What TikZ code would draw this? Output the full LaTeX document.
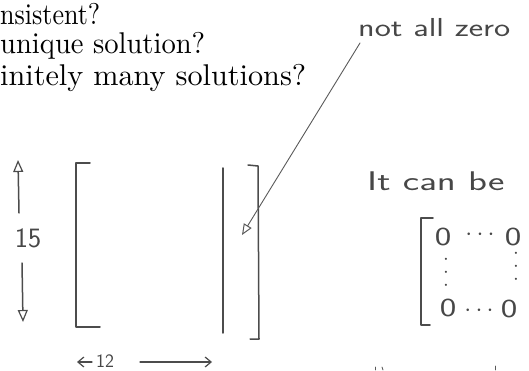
\documentclass[tikz,border=0pt]{standalone}
\usepackage{fontspec}
\usepackage{graphicx}
\newfontfamily\lmten{lmroman10-regular.otf}
\usetikzlibrary{arrows.meta}
\begin{document}
\begin{tikzpicture}[x=1pt,y=-1pt,
  pencil/.style={draw=black!70, line width=1.5pt, line cap=round, line join=round},
  thinpencil/.style={draw=black!65, line width=0.9pt, line cap=round},
  typed/.style={anchor=base west, inner sep=0pt, font=\lmten\fontsize{30}{32}\selectfont},
  hand/.style={inner sep=0pt, text=black!72, font=\sffamily},
  zero/.style={hand, font=\sffamily\fontsize{26}{28}\selectfont},
  vdot/.style={hand, align=center, font=\fontsize{22}{13}\selectfont},
  hdot/.style={hand, font=\fontsize{28}{28}\selectfont},
  headtri/.style={-{Triangle[open,length=12pt,width=10pt,line width=1.2pt]}},
  headline/.style={-{Straight Barb[length=6pt,width=10pt,line width=1.2pt]}}]
\useasboundingbox (0,0) rectangle (529,371);

% typed lines
\node[typed] (l1) at (0,25) {\resizebox{100pt}{\height}{nsistent?}};
\node[typed] (l2) at (0,54) {\resizebox{205pt}{\height}{unique solution?}};
\node[typed] (l3) at (0,86) {\resizebox{306pt}{\height}{initely many solutions?}};

% height arrows and label
\node[hand, font=\sffamily\fontsize{28}{30}\selectfont] (h15) at (28,238) {15};
\coordinate (ua1) at (19,213);
\coordinate (ua2) at (18,160);
\coordinate (da1) at (22,263);
\coordinate (da2) at (23,322);
\draw[pencil, headtri] (ua1) -- (ua2);
\draw[pencil, headtri] (da1) -- (da2);

% big matrix
\draw[pencil] (90,163) -- (76,163) -- (76,327) -- (100,327);
\draw[pencil] (223,168) -- (223,333);
\draw[pencil] (248,165) -- (258,166) -- (259,339) -- (250,339);

% width arrows and label
\node[hand, font=\sffamily\fontsize{19}{20}\selectfont] (w12) at (105,361) {12};
\coordinate (la1) at (92,362);
\coordinate (la2) at (77,362);
\coordinate (ra1) at (140,362);
\coordinate (ra2) at (212,362);
\draw[pencil, line width=1.2pt, headline] (la1) -- (la2);
\draw[pencil, line width=1.2pt, headline] (ra1) -- (ra2);

% annotation
\node[hand, anchor=base west, font=\sffamily\fontsize{26}{28}\selectfont] (naz) at (358,37) {\scalebox{1.32}[1]{not all zero}};
\coordinate (nazs) at (360,43);
\coordinate (nazt) at (242,235);
\draw[thinpencil, -{Triangle[open,length=11pt,width=9pt,line width=1pt]}] (nazs) -- (nazt);

% right part
\node[hand, anchor=base west, font=\sffamily\fontsize{27}{28}\selectfont] (icb) at (367,191) {\scalebox{1.45}[1]{It can be}};
\draw[pencil] (433,218) -- (421,218) -- (421,325) -- (430,325);
\node[zero] (z11) at (443,237) {\scalebox{1.35}[1]{0}};
\node[zero] (z12) at (513,237) {\scalebox{1.35}[1]{0}};
\node[zero] (z21) at (448,308) {\scalebox{1.35}[1]{0}};
\node[zero] (z22) at (509,309) {\scalebox{1.35}[1]{0}};
\node[hdot] (hd1) at (480,235) {$\cdots$};
\node[hdot] (hd2) at (479,311) {$\cdots$};
\node[vdot] (vd1) at (446,273) {$\cdot$\\$\cdot$\\$\cdot$};
\node[vdot] (vd2) at (516,267) {$\cdot$\\$\cdot$\\$\cdot$};

% cut-off marks at bottom
\draw[thinpencil] (375,367) -- (375,370);
\draw[thinpencil] (382,367) -- (383,370);
\draw[thinpencil] (495,366) -- (495,370);
\end{tikzpicture}
\end{document}
